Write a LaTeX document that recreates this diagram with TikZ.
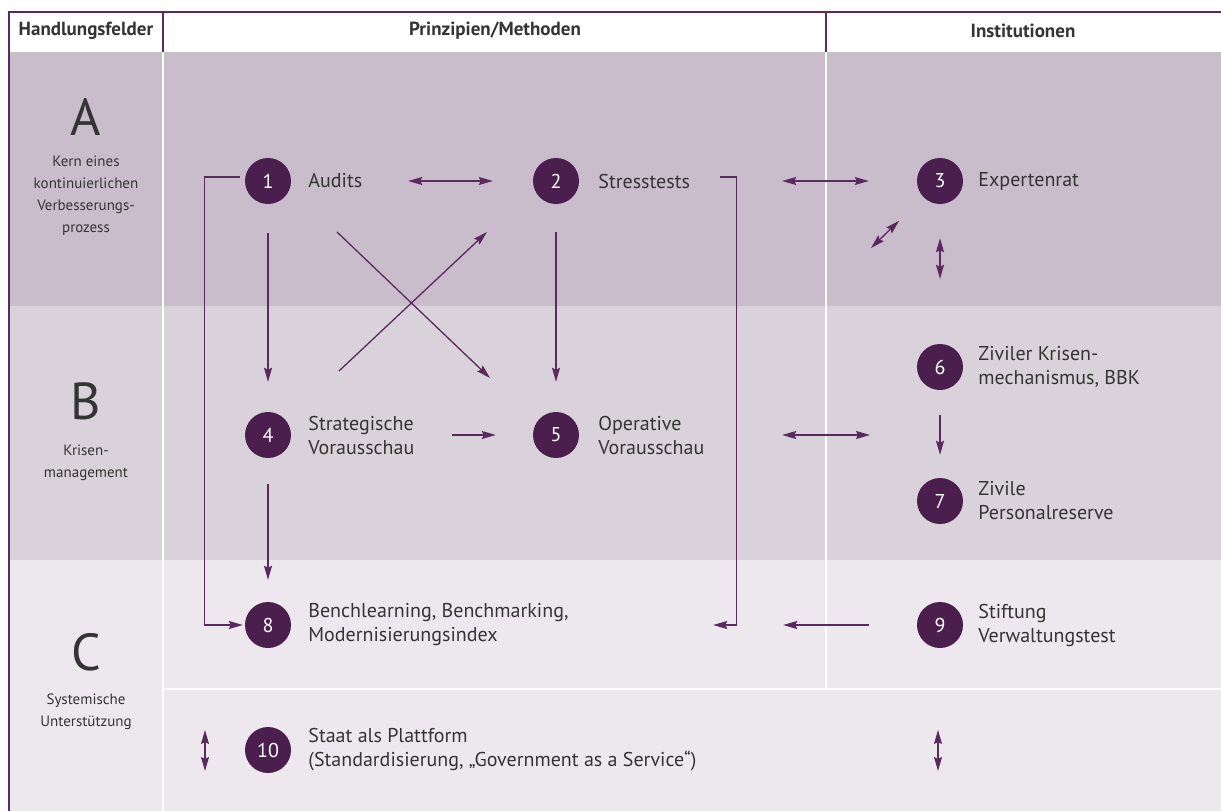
\documentclass[tikz,border=0pt]{standalone}
\usepackage{fontspec}
\setmainfont{PT Sans}
\usepackage{tikz}
\usetikzlibrary{arrows.meta,positioning,calc}
\definecolor{bm_purple}{RGB}{75,31,77}
\definecolor{bm_line}{RGB}{90,42,94}
\definecolor{bm_rowa}{RGB}{201,188,203}
\definecolor{bm_rowb}{RGB}{218,210,219}
\definecolor{bm_rowc}{RGB}{237,232,237}
\definecolor{bm_text}{RGB}{52,52,52}

\begin{document}
\begin{tikzpicture}[x=1pt,y=-1pt,
          num/.style={circle, fill=bm_purple, text=white, minimum size=46pt, inner sep=0pt,
                      font=\fontsize{20}{24}\selectfont},
          lbl/.style={align=left, text=bm_text, inner sep=0pt, font=\fontsize{20}{24}\selectfont},
          head/.style={text=bm_text, inner sep=0pt, font=\fontsize{19}{22}\selectfont\bfseries},
          big/.style={text=bm_text, inner sep=0pt, font=\fontsize{52}{60}\selectfont},
          side/.style={align=center, text=bm_text, inner sep=0pt, font=\fontsize{15}{22}\selectfont},
          tip/.tip={Stealth[length=14pt,width=8pt,inset=2pt]},
          arr/.style={-tip, line width=1.3pt, bm_line},
          dbl/.style={tip-tip, line width=1.3pt, bm_line}]
        \useasboundingbox (0,0) rectangle (1221,811);
        % rows
        \fill[bm_rowa] (9,52)  rectangle (1221,306);
        \fill[bm_rowb] (9,306) rectangle (1221,560);
        \fill[bm_rowc] (9,560) rectangle (1221,811);
        \draw[white, line width=2.5pt] (163,52) -- (163,811);
        \draw[white, line width=2.5pt] (826,52) -- (826,689);
        \draw[white, line width=2.5pt] (163,689) -- (1221,689);
        % header
        \draw[bm_line, line width=1.3pt] (9,811) -- (9,12) -- (1221,12);
        \draw[bm_line, line width=1.3pt] (163,12) -- (163,52);
        \draw[bm_line, line width=1.3pt] (826,12) -- (826,52);
        \node[head] (hfeld) at (86,31)   {Handlungsfelder};
        \node[head] (hprin) at (495,31)  {Prinzipien/Methoden};
        \node[head] (hinst) at (1023,31) {Institutionen};
        % Handlungsfelder
        \node[big]  (la) at (86,117) {A};
        \node[side] (sa) at (86,196) {Kern eines\\kontinuierlichen\\Verbesserungs-\\prozess};
        \node[big]  (lb) at (86,401) {B};
        \node[side] (sb) at (86,463) {Krisen-\\management};
        \node[big]  (lc) at (86,652) {C};
        \node[side] (sc) at (86,712) {Systemische\\Unterstützung};
        % circles
        \node[num] (c1)  at (268,181) {1};
        \node[num] (c2)  at (556,181) {2};
        \node[num] (c3)  at (940,181) {3};
        \node[num] (c4)  at (268,435) {4};
        \node[num] (c5)  at (556,435) {5};
        \node[num] (c6)  at (940,367) {6};
        \node[num] (c7)  at (940,501) {7};
        \node[num] (c8)  at (268,625) {8};
        \node[num] (c9)  at (940,625) {9};
        \node[num] (c10) at (268,750) {10};
        \node[lbl, right=17pt of c1]  (t1)  {Audits};
        \node[lbl, right=19pt of c2]  (t2)  {Stresstests};
        \node[lbl, right=15pt of c3]  (t3)  {Expertenrat};
        \node[lbl, right=17pt of c4]  (t4)  {Strategische\\Vorausschau};
        \node[lbl, right=19pt of c5]  (t5)  {Operative\\Vorausschau};
        \node[lbl, right=15pt of c6]  (t6)  {Ziviler Krisen-\\mechanismus, BBK};
        \node[lbl, right=15pt of c7]  (t7)  {Zivile\\Personalreserve};
        \node[lbl, right=17pt of c8]  (t8)  {Benchlearning, Benchmarking,\\Modernisierungsindex};
        \node[lbl, right=15pt of c9]  (t9)  {Stiftung\\Verwaltungstest};
        \node[lbl, right=17pt of c10] (t10) {Staat als Plattform\\(Standardisierung, „Government as a Service“)};
        % row A
        \draw[dbl, shorten <=117pt, shorten >=40pt] (c1) -- (c2);
        \draw[dbl, shorten <=203pt, shorten >=48pt] (c2) -- (c3);
        \draw[dbl, shorten <=57pt] (c3.center) -- ++(-69,67);
        \draw[dbl, shorten <=34pt, shorten >=65pt] (c3) -- (c6);
        \draw[arr, shorten <=29pt, shorten >=30pt] (c1) -- (c4);
        \draw[arr, shorten <=28pt, shorten >=30pt] (c2) -- (c5);
        \draw[arr] ([shift={(69,51)}]c1.center) -- ([shift={(-66,-57)}]c5.center);
        \draw[arr] ([shift={(71,-64)}]c4.center) -- ([shift={(-69,51)}]c2.center);
        % row B
        \draw[arr, shorten <=161pt, shorten >=37pt] (c4) -- (c5);
        \draw[dbl, shorten <=203pt, shorten >=70pt] (c5) -- (c5 -| c6);
        \draw[arr, shorten <=25pt, shorten >=23pt] (c6) -- (c7);
        \draw[arr, shorten <=26pt, shorten >=22pt] (c4) -- (c8);
        % feedback brackets
        \draw[arr] ([shift={(-5,-4)}]c1.west) -- ++(-35,0) |- ([xshift=-2pt]c8.west);
        \draw[arr] ([shift={(141,-4)}]c2.east) -- ++(16,0) |- ([xshift=422pt]c8.east);
        % row C
        \draw[arr, shorten <=48pt, shorten >=492pt] (c9) -- (c8);
        \draw[dbl] ([shift={(-63,-20)}]c10.center) -- ([shift={(-63,21)}]c10.center);
        \draw[dbl] ([shift={(-2,-20)}]c10 -| c9) -- ([shift={(-2,21)}]c10 -| c9);
      \end{tikzpicture}
\end{document}
